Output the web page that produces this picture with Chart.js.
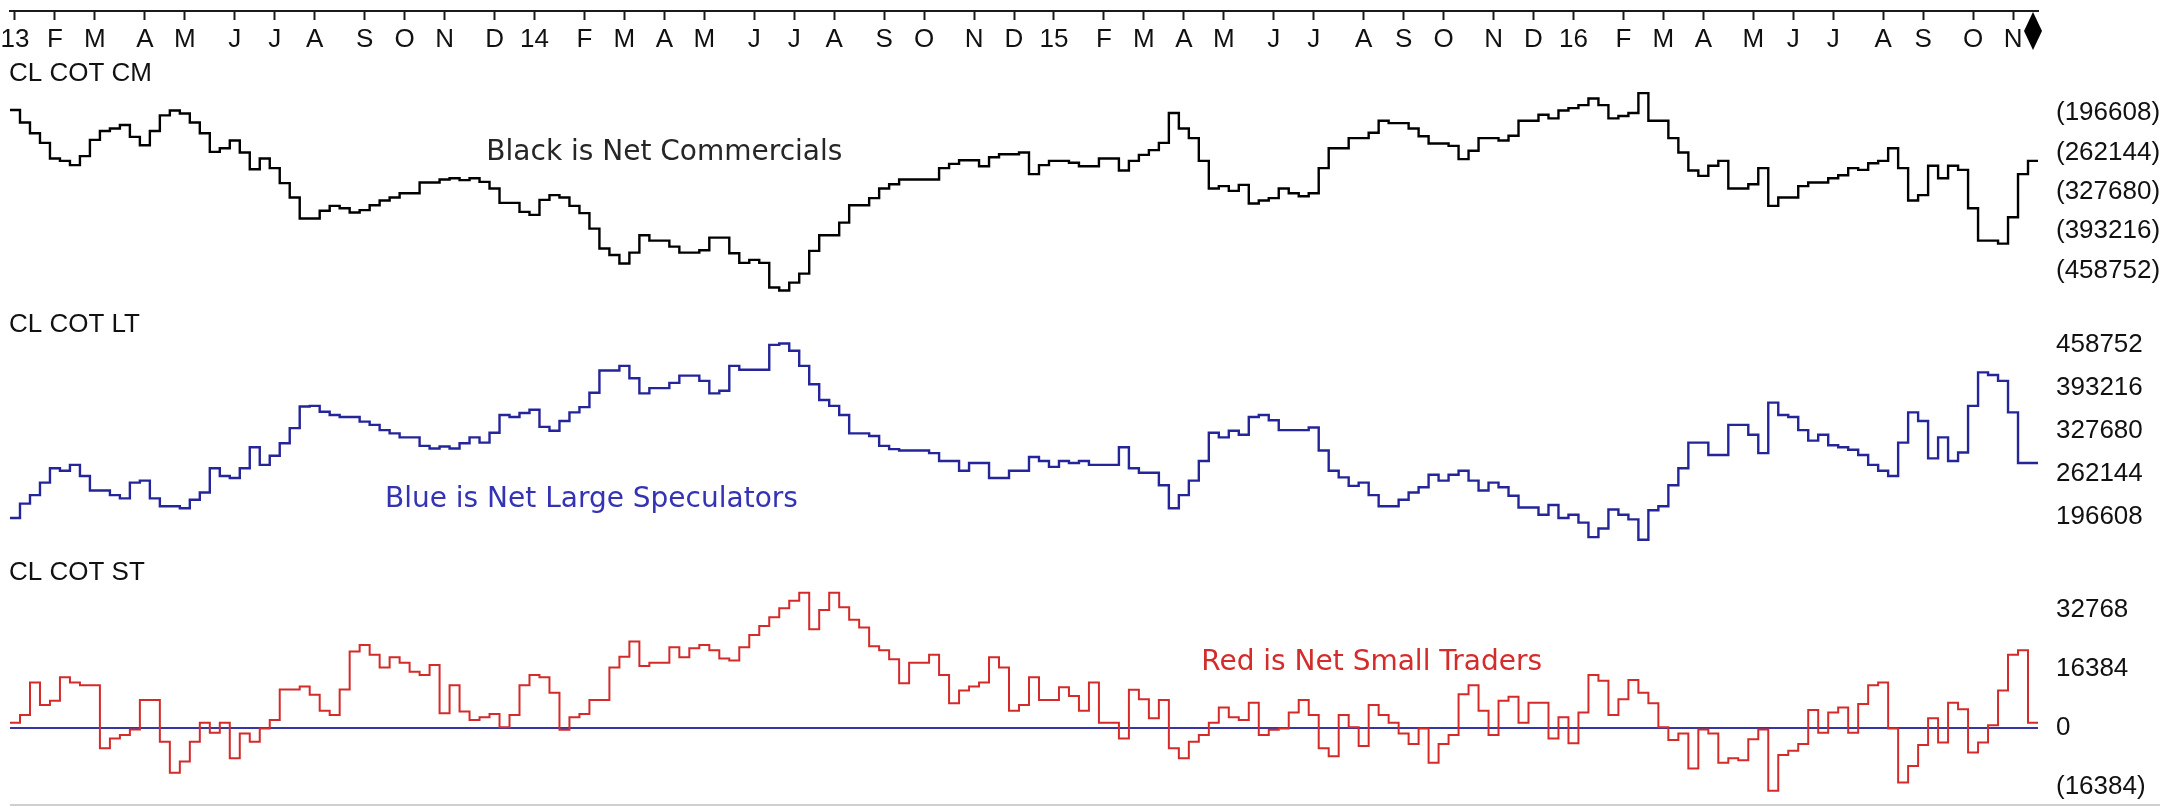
<!DOCTYPE html>
<html>
<head>
<meta charset="utf-8">
<title>CL COT</title>
<script src="https://cdn.jsdelivr.net/npm/chart.js@4/dist/chart.umd.min.js"></script>
<style>
  html, body { margin: 0; padding: 0; background: #ffffff; }
  #wrap { width: 2172px; height: 811px; }
</style>
</head>
<body>
<div id="wrap"><canvas id="cot" width="2172" height="811"></canvas></div>
<script>
// Weekly Commitments of Traders, crude oil (CL). First report week ends Friday 4 Jan 2013.
const FIRST_WEEK = '2013-01-04';
const MONTH_LETTERS = ['J', 'F', 'M', 'A', 'M', 'J', 'J', 'A', 'S', 'O', 'N', 'D'];

// Net commercial position (contracts)
const netCommercials = [
  -191000, -212000, -230000, -246000, -272000, -276000, -283000, -268000, -241000, -226000,
  -222000, -216000, -236000, -250000, -226000, -200000, -192000, -197000, -212000, -230000,
  -261000, -255000, -242000, -262000, -290000, -272000, -288000, -313000, -337000, -372000,
  -372000, -359000, -351000, -355000, -362000, -358000, -350000, -342000, -337000, -330000,
  -330000, -312000, -312000, -307000, -305000, -308000, -305000, -311000, -322000, -346000,
  -346000, -361000, -366000, -341000, -333000, -337000, -351000, -363000, -389000, -422000,
  -433000, -447000, -429000, -400000, -409000, -409000, -419000, -429000, -429000, -425000,
  -404000, -404000, -430000, -446000, -441000, -446000, -487000, -492000, -479000, -464000,
  -426000, -400000, -400000, -379000, -350000, -350000, -338000, -322000, -315000, -307000,
  -307000, -307000, -307000, -288000, -281000, -275000, -275000, -285000, -270000, -265000,
  -265000, -262000, -298000, -283000, -276000, -276000, -279000, -285000, -285000, -272000,
  -272000, -292000, -276000, -266000, -258000, -246000, -196000, -222000, -238000, -276000,
  -322000, -318000, -326000, -316000, -347000, -342000, -338000, -322000, -330000, -335000,
  -330000, -288000, -255000, -255000, -238000, -238000, -229000, -209000, -213000, -213000,
  -222000, -235000, -247000, -247000, -251000, -273000, -259000, -238000, -238000, -242000,
  -234000, -209000, -209000, -199000, -205000, -192000, -188000, -183000, -172000, -183000,
  -205000, -201000, -196000, -163000, -209000, -209000, -238000, -262000, -292000, -301000,
  -284000, -276000, -322000, -322000, -315000, -288000, -351000, -337000, -337000, -318000,
  -312000, -312000, -305000, -300000, -288000, -291000, -280000, -276000, -255000, -288000,
  -342000, -333000, -284000, -305000, -284000, -291000, -355000, -409000, -409000, -414000,
  -370000, -298000, -276000
];

// Net large speculator position (contracts)
const netLargeSpecs = [
  195000, 217000, 230000, 249000, 271000, 267000, 276000, 259000, 237000, 237000,
  230000, 225000, 249000, 252000, 225000, 213000, 213000, 210000, 223000, 234000,
  271000, 259000, 256000, 271000, 303000, 276000, 290000, 309000, 332000, 365000,
  366000, 357000, 352000, 349000, 349000, 342000, 337000, 329000, 324000, 318000,
  318000, 305000, 301000, 304000, 301000, 309000, 318000, 310000, 325000, 352000,
  349000, 355000, 360000, 334000, 328000, 343000, 356000, 364000, 386000, 420000,
  420000, 427000, 408000, 385000, 393000, 393000, 401000, 412000, 412000, 404000,
  385000, 389000, 427000, 421000, 421000, 421000, 459000, 461000, 450000, 427000,
  399000, 375000, 366000, 352000, 324000, 324000, 320000, 305000, 300000, 298000,
  298000, 298000, 294000, 282000, 282000, 267000, 279000, 279000, 256000, 256000,
  267000, 267000, 288000, 282000, 273000, 282000, 279000, 282000, 276000, 276000,
  276000, 303000, 271000, 264000, 264000, 245000, 210000, 230000, 252000, 282000,
  325000, 318000, 328000, 322000, 349000, 352000, 344000, 329000, 329000, 329000,
  333000, 298000, 267000, 257000, 244000, 249000, 230000, 213000, 213000, 223000,
  234000, 242000, 261000, 252000, 261000, 267000, 252000, 237000, 249000, 242000,
  229000, 211000, 211000, 200000, 215000, 195000, 200000, 188000, 166000, 179000,
  208000, 200000, 193000, 162000, 207000, 213000, 245000, 271000, 310000, 310000,
  291000, 291000, 337000, 337000, 322000, 294000, 371000, 352000, 349000, 329000,
  313000, 322000, 306000, 303000, 299000, 291000, 276000, 267000, 259000, 310000,
  356000, 343000, 286000, 318000, 282000, 295000, 366000, 417000, 413000, 404000,
  356000, 279000, 279000
];

// Net small trader position (contracts)
const netSmallTraders = [
  1400, 3500, 12500, 6300, 7500, 14000, 12500, 11800, 11800, -5700,
  -3000, -2000, -500, 7700, 7700, -3900, -12500, -9400, -3900, 1400,
  -1400, 1400, -8500, -1600, -3900, -200, 2100, 10600, 10600, 11400,
  9100, 4700, 3500, 10600, 21100, 22900, 20200, 16700, 19500, 18000,
  15500, 14600, 17400, 4000, 11800, 4500, 2100, 2900, 3800, 100,
  3500, 11800, 14600, 14000, 9700, -600, 2900, 3800, 7700, 7700,
  16700, 19700, 23900, 17100, 18000, 18000, 22300, 19500, 22000, 22900,
  21500, 19200, 18600, 22300, 25700, 28200, 30600, 33100, 35200, 37400,
  27300, 32600, 37400, 33400, 29900, 27800, 22600, 21500, 19000, 12300,
  18000, 18000, 20200, 14600, 6800, 10300, 11400, 12500, 19500, 16700,
  4700, 6300, 14000, 7700, 7700, 11200, 8800, 4700, 12500, 1400,
  1400, -3000, 10500, 7900, 2600, 7700, -5700, -8500, -3900, -2000,
  1400, 5600, 2900, 2100, 6900, -2000, -600, -200, 4200, 7700,
  3500, -5700, -7900, 3500, 100, -5100, 6300, 3500, 1400, -1600,
  -4500, -200, -9700, -4500, -2000, 9300, 11800, 4700, -2000, 7500,
  8600, 1400, 6900, 6900, -3000, 2900, -4300, 4200, 14600, 13000,
  3500, 7900, 13200, 9700, 6800, 100, -3400, -1600, -11300, -500,
  -1600, -9700, -8500, -9000, -3200, -500, -17500, -7600, -6400, -4500,
  4900, -1400, 4200, 5600, -1400, 6600, 11800, 12500, -200, -15200,
  -10600, -4800, 2600, -4100, 6900, 5100, -6900, -4100, 700, 10300,
  20200, 21500, 1400
];

// Right-hand scale ticks for each panel
const cmTicks = [-196608, -262144, -327680, -393216, -458752];
const ltTicks = [458752, 393216, 327680, 262144, 196608];
const stTicks = [32768, 16384, 0, -16384];

const panelTitles = ['CL COT CM', 'CL COT LT', 'CL COT ST'];
const panelNotes = ['Black is Net Commercials', 'Blue is Net Large Speculators', 'Red is Net Small Traders'];

// ---------------------------------------------------------------------------

const WEEKS = netCommercials.length;

// Weekly dates; a tick goes on the first week of every month
const weekDates = [];
for (let i = 0; i < WEEKS; i++) {
  const d = new Date(FIRST_WEEK + 'T00:00:00Z');
  d.setUTCDate(d.getUTCDate() + 7 * i);
  weekDates.push(d);
}
const monthTicks = [];
weekDates.forEach((d, i) => {
  if (i === 0 || d.getUTCMonth() !== weekDates[i - 1].getUTCMonth()) {
    const m = d.getUTCMonth();
    const label = m === 0 ? String(d.getUTCFullYear()).slice(2) : MONTH_LETTERS[m];
    monthTicks.push({ value: i + 0.5, label });
  }
});

const AXIS_FAMILY = '"Liberation Sans", Arial, sans-serif';
const AXIS_SIZE = 26;
const NOTE_FAMILY = '"DejaVu Sans", Verdana, sans-serif';
const NOTE_SIZE = 28;

function stepPoints(values) {
  const pts = values.map((v, i) => ({ x: i, y: v }));
  pts.push({ x: values.length, y: values[values.length - 1] });
  return pts;
}

function paren(v) {
  return v < 0 ? '(' + Math.abs(v) + ')' : String(v);
}

const axisFont = { family: AXIS_FAMILY, size: AXIS_SIZE };

function rightAxis(extra) {
  return Object.assign({
    type: 'linear',
    position: 'right',
    stack: 'cot',
    afterFit: s => { s.width = 134; s.paddingTop = 0; s.paddingBottom = 0; },
    border: { display: false },
    grid: { display: false, drawTicks: false },
    ticks: { autoSkip: false, padding: 18, color: '#111', font: axisFont, callback: v => paren(v) }
  }, extra);
}

const decor = {
  id: 'cotDecor',
  afterDraw(chart) {
    const { ctx, chartArea, scales } = chart;
    const x = scales.x;
    const panels = [
      { axis: 'yCM', dy: 63, note: { week: 65.5, value: -262800, color: '#262626' } },
      { axis: 'yLT', dy: 14, note: { week: 58.2, value: 222500, color: '#3333b4' } },
      { axis: 'yST', dy: 12, note: { week: 136.3, value: 17900, color: '#d42c2c' } }
    ];
    ctx.save();

    // panel titles
    ctx.font = AXIS_SIZE + 'px ' + AXIS_FAMILY;
    ctx.fillStyle = '#111';
    ctx.textAlign = 'left';
    ctx.textBaseline = 'middle';
    panels.forEach((p, i) => {
      ctx.fillText(panelTitles[i], chartArea.left - 1, scales[p.axis].top + p.dy);
    });

    // series captions
    ctx.font = NOTE_SIZE + 'px ' + NOTE_FAMILY;
    ctx.textAlign = 'center';
    panels.forEach((p, i) => {
      ctx.fillStyle = p.note.color;
      ctx.fillText(panelNotes[i], x.getPixelForValue(p.note.week), scales[p.axis].getPixelForValue(p.note.value));
    });

    // bottom rule
    ctx.strokeStyle = '#cfcfcf';
    ctx.lineWidth = 2;
    ctx.beginPath();
    ctx.moveTo(chartArea.left, chartArea.bottom - 6);
    ctx.lineTo(chart.width - 12, chartArea.bottom - 6);
    ctx.stroke();

    // marker on the latest week
    const cx = x.getPixelForValue(WEEKS - 0.5);
    const top = chartArea.top;
    ctx.fillStyle = '#000';
    ctx.beginPath();
    ctx.moveTo(cx, top + 1);
    ctx.lineTo(cx + 9, top + 20);
    ctx.lineTo(cx, top + 39);
    ctx.lineTo(cx - 9, top + 20);
    ctx.closePath();
    ctx.fill();

    ctx.restore();
  }
};

new Chart(document.getElementById('cot'), {
  type: 'line',
  data: {
    datasets: [
      { label: 'CL COT CM', data: stepPoints(netCommercials), yAxisID: 'yCM', borderColor: '#000000', borderWidth: 2.4 },
      { label: 'CL COT LT', data: stepPoints(netLargeSpecs), yAxisID: 'yLT', borderColor: '#25259a', borderWidth: 2.4 },
      { label: 'CL COT ST', data: stepPoints(netSmallTraders), yAxisID: 'yST', borderColor: '#d42a2a', borderWidth: 2 }
    ]
  },
  options: {
    responsive: false,
    devicePixelRatio: 1,
    animation: false,
    events: [],
    layout: { padding: { left: 10, right: 0, top: 0, bottom: 0 } },
    elements: {
      line: { stepped: true, tension: 0, fill: false },
      point: { radius: 0 }
    },
    plugins: { legend: { display: false }, tooltip: { enabled: false } },
    scales: {
      x: {
        type: 'linear',
        position: 'top',
        min: 0,
        max: WEEKS,
        afterFit: s => { s.height = 11; s.paddingLeft = 0; s.paddingRight = 0; },
        afterBuildTicks: s => { s.ticks = monthTicks.map(t => ({ value: t.value })); },
        border: { display: true, color: '#1a1a1a', width: 2 },
        grid: { drawOnChartArea: false, drawTicks: true, tickLength: -9, tickWidth: 2, tickColor: '#1a1a1a' },
        ticks: {
          autoSkip: false, maxRotation: 0, minRotation: 0, mirror: true, padding: 13,
          color: '#111', font: axisFont,
          callback: (v, i) => monthTicks[i].label
        }
      },
      yCM: rightAxis({
        stackWeight: 300, min: -526292, max: -26013,
        afterBuildTicks: s => { s.ticks = cmTicks.map(v => ({ value: v })); }
      }),
      yLT: rightAxis({
        stackWeight: 250, min: 129546, max: 510571,
        afterBuildTicks: s => { s.ticks = ltTicks.map(v => ({ value: v })); }
      }),
      yST: rightAxis({
        stackWeight: 250, min: -23091, max: 46209, z: 1,
        afterBuildTicks: s => { s.ticks = stTicks.map(v => ({ value: v })); },
        grid: {
          display: true, drawOnChartArea: true, drawTicks: false,
          color: c => (c.tick && c.tick.value === 0 ? '#3535a8' : 'rgba(0,0,0,0)'),
          lineWidth: c => (c.tick && c.tick.value === 0 ? 2 : 0)
        }
      })
    }
  },
  plugins: [decor]
});
</script>
</body>
</html>
